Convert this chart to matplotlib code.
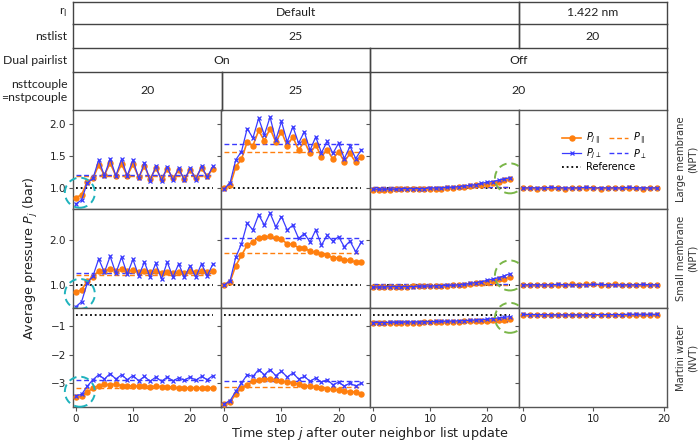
import matplotlib.pyplot as plt
import matplotlib.transforms as mtransforms
from matplotlib.patches import Circle
from matplotlib.lines import Line2D
from matplotlib.ticker import FormatStrFormatter

# values (pressures in bar)

row_names = ["Large membrane\n(NPT)", "Small membrane\n(NPT)", "Martini water\n(NVT)"]
nstlist = [25, 25, 25, 20]
reference = [1.0, 1.0, -0.62]

# large membrane
large_c1_par = [0.85, 0.89, 1.10, 1.15, 1.36, 1.20, 1.39, 1.19, 1.37, 1.19, 1.37, 1.17, 1.34,
                1.14, 1.31, 1.14, 1.30, 1.15, 1.28, 1.14, 1.28, 1.16, 1.31, 1.18, 1.30]
large_c1_perp = [0.75, 0.81, 1.08, 1.15, 1.44, 1.19, 1.46, 1.19, 1.45, 1.19, 1.44, 1.15, 1.39,
                 1.11, 1.34, 1.11, 1.33, 1.12, 1.31, 1.12, 1.31, 1.13, 1.34, 1.17, 1.34]
large_c2_par = [1.00, 1.04, 1.33, 1.45, 1.72, 1.66, 1.90, 1.74, 1.93, 1.72, 1.88, 1.66, 1.80,
                1.59, 1.73, 1.54, 1.67, 1.49, 1.60, 1.45, 1.57, 1.41, 1.54, 1.40, 1.49]
large_c2_perp = [0.99, 1.08, 1.44, 1.57, 1.93, 1.78, 2.09, 1.83, 2.11, 1.75, 2.04, 1.72, 1.96,
                 1.70, 1.88, 1.59, 1.80, 1.55, 1.73, 1.54, 1.70, 1.46, 1.65, 1.46, 1.60]
large_c3_par = [0.97, 0.97, 0.97, 0.97, 0.98, 0.98, 0.98, 0.98, 0.98, 0.98, 0.99, 0.99, 0.99,
                1.00, 1.00, 1.01, 1.02, 1.03, 1.04, 1.05, 1.06, 1.08, 1.10, 1.12, 1.14]
large_c3_perp = [0.98, 0.98, 0.98, 0.98, 0.98, 0.99, 0.99, 0.99, 0.99, 0.99, 1.00, 1.00, 1.00,
                 1.01, 1.01, 1.02, 1.03, 1.04, 1.05, 1.07, 1.09, 1.10, 1.12, 1.14, 1.16]
large_c4_par = [1.00, 1.00, 0.99, 1.00, 1.00, 1.00, 0.99, 1.00, 1.00, 1.00,
                1.00, 0.99, 1.00, 1.00, 1.00, 1.00, 1.00, 0.99, 1.00, 1.00]
large_c4_perp = [1.00, 1.00, 1.00, 1.00, 1.01, 1.00, 1.00, 1.00, 1.00, 1.01,
                 1.00, 1.00, 1.00, 1.00, 1.00, 1.01, 1.00, 1.00, 1.00, 1.00]

# small membrane
small_c1_par = [0.83, 0.89, 1.08, 1.18, 1.31, 1.30, 1.36, 1.32, 1.35, 1.31, 1.33, 1.29, 1.32,
                1.28, 1.30, 1.27, 1.29, 1.27, 1.29, 1.27, 1.30, 1.28, 1.31, 1.29, 1.32]
small_c1_perp = [0.51, 0.62, 1.04, 1.20, 1.58, 1.28, 1.64, 1.26, 1.62, 1.24, 1.57, 1.20, 1.51,
                 1.17, 1.48, 1.13, 1.51, 1.17, 1.47, 1.17, 1.43, 1.17, 1.47, 1.20, 1.47]
small_c2_par = [1.00, 1.07, 1.43, 1.66, 1.89, 1.96, 2.06, 2.07, 2.09, 2.04, 2.02, 1.92, 1.91,
                1.83, 1.83, 1.75, 1.73, 1.68, 1.66, 1.61, 1.60, 1.55, 1.55, 1.51, 1.51]
small_c2_perp = [1.00, 1.09, 1.62, 1.92, 2.38, 2.23, 2.57, 2.34, 2.61, 2.30, 2.53, 2.23, 2.34,
                 2.04, 2.15, 1.96, 2.23, 1.89, 2.11, 1.98, 2.08, 1.85, 1.98, 1.74, 1.96]
small_c3_par = [0.96, 0.96, 0.96, 0.96, 0.96, 0.96, 0.96, 0.97, 0.97, 0.97, 0.97, 0.97, 0.98,
                0.98, 0.99, 0.99, 1.00, 1.01, 1.03, 1.05, 1.07, 1.09, 1.12, 1.14, 1.17]
small_c3_perp = [0.95, 0.95, 0.95, 0.96, 0.96, 0.96, 0.96, 0.96, 0.97, 0.97, 0.97, 0.98, 0.98,
                 0.99, 0.99, 1.00, 1.01, 1.03, 1.05, 1.07, 1.10, 1.13, 1.16, 1.20, 1.25]
small_c4_par = [1.00, 0.99, 0.99, 1.00, 1.00, 1.00, 1.00, 1.01, 1.00, 1.01,
                1.01, 1.00, 1.00, 1.01, 1.00, 1.00, 1.00, 1.00, 1.00, 1.00]
small_c4_perp = [1.00, 1.00, 1.00, 1.00, 1.00, 1.01, 1.00, 1.00, 1.00, 1.00,
                 1.01, 1.01, 1.00, 1.00, 1.00, 1.00, 1.00, 1.01, 1.00, 1.00]

# martini water
water_c1_par = [-3.50, -3.46, -3.32, -3.17, -3.09, -3.05, -3.06, -3.04, -3.09, -3.09, -3.11,
                -3.11, -3.11, -3.13, -3.11, -3.13, -3.13, -3.14, -3.17, -3.17, -3.17, -3.16,
                -3.17, -3.16, -3.17]
water_c1_perp = [-3.44, -3.40, -3.11, -2.88, -2.71, -2.86, -2.67, -2.86, -2.71, -2.88, -2.74,
                 -2.92, -2.77, -2.94, -2.79, -2.94, -2.79, -2.92, -2.82, -2.90, -2.79, -2.90,
                 -2.77, -2.88, -2.74]
water_c2_par = [-3.75, -3.65, -3.40, -3.17, -3.06, -2.94, -2.88, -2.86, -2.86, -2.88, -2.92,
                -2.97, -3.00, -3.04, -3.09, -3.11, -3.13, -3.17, -3.20, -3.22, -3.25, -3.29,
                -3.30, -3.32, -3.37]
water_c2_perp = [-3.72, -3.62, -3.29, -3.00, -2.71, -2.77, -2.53, -2.71, -2.53, -2.74, -2.59,
                 -2.79, -2.65, -2.86, -2.77, -2.94, -2.82, -2.97, -2.88, -3.06, -2.97, -3.11,
                 -3.00, -3.11, -3.00]
water_c3_par = [-0.90, -0.90, -0.90, -0.89, -0.89, -0.89, -0.88, -0.88, -0.88, -0.87, -0.87,
                -0.87, -0.86, -0.86, -0.85, -0.85, -0.84, -0.84, -0.83, -0.82, -0.81, -0.80,
                -0.79, -0.78, -0.76]
water_c3_perp = [-0.88, -0.88, -0.88, -0.87, -0.87, -0.87, -0.86, -0.86, -0.86, -0.85, -0.85,
                 -0.84, -0.84, -0.83, -0.83, -0.82, -0.81, -0.80, -0.79, -0.78, -0.76, -0.74,
                 -0.72, -0.70, -0.67]
water_c4_par = [-0.60, -0.61, -0.61, -0.61, -0.62, -0.62, -0.62, -0.62, -0.62, -0.62,
                -0.62, -0.62, -0.62, -0.61, -0.61, -0.61, -0.61, -0.61, -0.61, -0.61]
water_c4_perp = [-0.59, -0.60, -0.60, -0.60, -0.61, -0.61, -0.61, -0.61, -0.61, -0.61,
                 -0.60, -0.60, -0.60, -0.60, -0.60, -0.59, -0.59, -0.59, -0.59, -0.59]

# averages (dashed lines), one per column
large_par_mean = [1.19, 1.57, 1.01, 1.00]
large_perp_mean = [1.21, 1.68, 1.02, 1.00]
small_par_mean = [1.22, 1.71, 1.00, 1.00]
small_perp_mean = [1.26, 2.05, 1.01, 1.00]
water_par_mean = [-3.17, -3.14, -0.85, -0.61]
water_perp_mean = [-2.88, -2.94, -0.83, -0.60]

# header table above the panels
header_labels = ["r$_\\mathrm{l}$", "nstlist", "Dual pairlist", "nsttcouple\n=nstpcouple"]
header_cells = [
    [("Default", 0, 3), ("1.422 nm", 3, 4)],
    [("25", 0, 3), ("20", 3, 4)],
    [("On", 0, 2), ("Off", 2, 4)],
    [("20", 0, 1), ("25", 1, 2), ("20", 2, 4)],
]

par = [[large_c1_par, large_c2_par, large_c3_par, large_c4_par],
       [small_c1_par, small_c2_par, small_c3_par, small_c4_par],
       [water_c1_par, water_c2_par, water_c3_par, water_c4_par]]
perp = [[large_c1_perp, large_c2_perp, large_c3_perp, large_c4_perp],
        [small_c1_perp, small_c2_perp, small_c3_perp, small_c4_perp],
        [water_c1_perp, water_c2_perp, water_c3_perp, water_c4_perp]]
par_mean = [large_par_mean, small_par_mean, water_par_mean]
perp_mean = [large_perp_mean, small_perp_mean, water_perp_mean]

ylims = [(0.67, 2.22), (0.48, 2.70), (-3.84, -0.37)]
yticks = [[1.0, 1.5, 2.0], [1.0, 2.0], [-3, -2, -1]]

ORANGE = "#ff7f0e"
BLUE = "#3a3aff"
EDGE = "#555555"
DOT = (0, (1, 1.6))
DASH = (0, (3.5, 2))

W, H = 700, 442
fig = plt.figure(figsize=(7, 4.42), dpi=100)
gs = fig.add_gridspec(3, 4, left=73 / W, right=667 / W, bottom=1 - 407 / H, top=1 - 110 / H,
                      wspace=0, hspace=0)

axes = [[fig.add_subplot(gs[r, c]) for c in range(4)] for r in range(3)]

for r in range(3):
    for c in range(4):
        ax = axes[r][c]
        n = nstlist[c]
        j = list(range(n))
        jmax = n - 1
        ax.hlines(reference[r], 0, jmax, colors="black", linestyles=DOT, lw=1.3, zorder=1)
        ax.hlines(par_mean[r][c], 0, jmax, colors=ORANGE, linestyles=DASH, lw=1.0, zorder=2)
        ax.hlines(perp_mean[r][c], 0, jmax, colors=BLUE, linestyles=DASH, lw=1.0, zorder=2)
        ax.plot(j, par[r][c], color=ORANGE, marker="o", ms=3.6, lw=1.2, zorder=3)
        ax.plot(j, perp[r][c], color=BLUE, marker="x", ms=2.8, mew=0.9, lw=0.9, zorder=4)

        ax.set_ylim(*ylims[r])
        ax.set_yticks(yticks[r])
        if c == 3:
            ax.set_xlim(-0.6, 20.4)
        else:
            ax.set_xlim(-0.5, 25.5)
        ax.set_xticks([0, 10, 20])
        if r < 2:
            ax.yaxis.set_major_formatter(FormatStrFormatter("%.1f"))
        if c > 0:
            ax.tick_params(labelleft=False)
        if r < 2:
            ax.tick_params(labelbottom=False)
        ax.tick_params(direction="out", length=3, width=0.8, color=EDGE, labelsize=7.5,
                       labelcolor="#222222", pad=2)
        for s in ax.spines.values():
            s.set_color(EDGE)
            s.set_linewidth(1.0)

# highlight circles around the first points (cyan) and the last points (green)
for r in range(3):
    for c, kind, col in [(0, "start", "#1fb3bd"), (2, "end", "#7ab648")]:
        ax = axes[r][c]
        if kind == "start":
            first = par[r][c][:3] + perp[r][c][:3]
            xc = 0.7
            yc = (min(first) + max(first)) / 2
        else:
            xc = nstlist[c] - 1
            yc = (par[r][c][-1] + perp[r][c][-1]) / 2
        tr = fig.dpi_scale_trans + mtransforms.ScaledTranslation(xc, yc, ax.transData)
        ax.add_patch(Circle((0, 0), 0.15, transform=tr, fill=False, ec=col, lw=1.4,
                            ls=(0, (4, 2.5)), clip_on=False, zorder=6))

# legend in the top-right panel: two columns of lines, "Reference" below
lax = axes[0][3]
h_series = [
    Line2D([], [], color=ORANGE, marker="o", ms=3.6, lw=1.2),
    Line2D([], [], color=BLUE, marker="x", ms=2.8, mew=0.9, lw=0.9),
    Line2D([], [], color=ORANGE, ls=DASH, lw=1.0),
    Line2D([], [], color=BLUE, ls=DASH, lw=1.0),
]
l_series = ["$P_{j\\parallel}$", "$P_{j\\perp}$", "$P_{\\parallel}$", "$P_{\\perp}$"]
leg1 = lax.legend(h_series, l_series, ncol=2, frameon=False, fontsize=7.0, loc="upper left",
                  bbox_to_anchor=(0.26, 0.84), handlelength=2.0, columnspacing=0.7,
                  handletextpad=0.5, labelspacing=0.0, borderpad=0)
lax.add_artist(leg1)
lax.legend([Line2D([], [], color="black", ls=DOT, lw=1.3)], ["Reference"], frameon=False,
           fontsize=7.0, loc="upper left", bbox_to_anchor=(0.26, 0.52), handlelength=2.0,
           handletextpad=0.5, borderpad=0)

# row labels on the right
for r in range(3):
    pos = axes[r][3].get_position()
    fig.text(687 / W, (pos.y0 + pos.y1) / 2, row_names[r], rotation=90, ha="center",
             va="center", fontsize=7.2, color="#333333", multialignment="center")

fig.text(0.044, 1 - 258 / H, "Average pressure $P_j$ (bar)", rotation=90, ha="center",
         va="center", fontsize=9.2, color="#222222")
fig.text(370 / W, 1 - 433 / H, "Time step $j$ after outer neighbor list update", ha="center",
         va="center", fontsize=9.2, color="#222222")

# header table
bounds = [0, 22, 46, 70, 108]
hax = fig.add_axes([73 / W, 1 - 110 / H, 594 / W, 108 / H])
hax.set_xlim(0, 4)
hax.set_ylim(108, 0)
hax.axis("off")
line_kw = dict(color="#444444", lw=1.0, clip_on=False)
for i, row in enumerate(header_cells):
    y0, y1 = bounds[i], bounds[i + 1]
    hax.plot([0, 4], [y0, y0], **line_kw)
    for text, a, b in row:
        hax.plot([a, a], [y0, y1], **line_kw)
        hax.plot([b, b], [y0, y1], **line_kw)
        hax.text((a + b) / 2, (y0 + y1) / 2, text, ha="center", va="center",
                 fontsize=8.8, family="Lato", color="#222222")
    hax.annotate(header_labels[i], xy=(0, (y0 + y1) / 2), xytext=(-4, 0),
                 textcoords="offset points", ha="right", va="center", fontsize=8.8,
                 family="Lato", color="#222222", multialignment="right")

fig.savefig("out.png", dpi=100)
